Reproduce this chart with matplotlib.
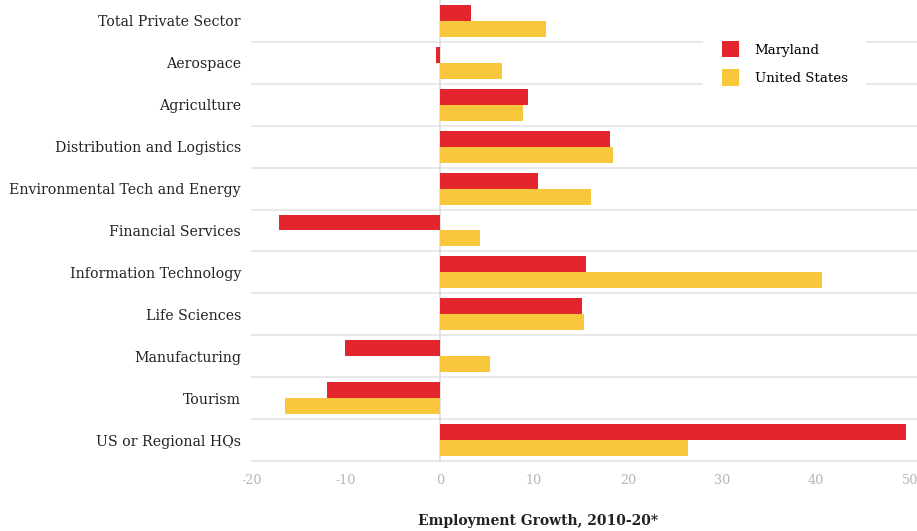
import numpy as np
import matplotlib.pyplot as plt
from matplotlib.patches import Patch

categories = ["Total Private Sector", "Aerospace", "Agriculture",
              "Distribution and Logistics", "Environmental Tech and Energy",
              "Financial Services", "Information Technology", "Life Sciences",
              "Manufacturing", "Tourism", "US or Regional HQs"]
maryland = [3.3, -0.4, 9.4, 18.1, 10.4, -17.1, 15.5, 15.1, -10.1, -12.0, 49.6]
united_states = [11.3, 6.6, 8.8, 18.4, 16.1, 4.3, 40.6, 15.3, 5.3, -16.5, 26.4]
xticks = [-20, -10, 0, 10, 20, 30, 40, 50]

red = "#e3262e"
yellow = "#f8c73c"

plt.rcParams['font.family'] = ['DejaVu Serif']

fig = plt.figure(figsize=(9.17, 5.31), dpi=100)
ax = fig.add_axes([252 / 917, 1 - 461 / 531, (910 - 252) / 917, 461 / 531])

y = np.arange(len(categories))
h = 0.38
ax.barh(y - h / 2, maryland, height=h, color=red, zorder=3)
ax.barh(y + h / 2, united_states, height=h, color=yellow, zorder=3)

ax.set_xlim(-20, 50)
ax.set_ylim(len(categories) - 0.5, -0.5)
ax.set_yticks(y)
ax.set_yticklabels(categories, fontsize=10.2, color="#222222")
ax.set_xticks(xticks)
ax.set_xticklabels([str(t) for t in xticks], fontsize=9.2, color="#b5b5b5")
ax.tick_params(axis="both", length=0)
ax.tick_params(axis="y", pad=8)
ax.tick_params(axis="x", pad=9)

for b in np.arange(0.5, len(categories), 1.0):
    ax.axhline(b, color="#e8e8e8", lw=1.5, zorder=1, xmax=1.02, clip_on=False)
ax.axvline(0, color="#dddddd", lw=1.2, zorder=2)

for s in ax.spines.values():
    s.set_visible(False)

handles = [Patch(facecolor=red, label="Maryland"),
           Patch(facecolor=yellow, label="United States")]
leg = ax.legend(handles=handles, loc="upper left", bbox_to_anchor=(0.686, 0.952),
                frameon=True, facecolor="white", edgecolor="none", framealpha=1,
                fontsize=9.6, handlelength=1.3, handleheight=1.55, handletextpad=1.15,
                labelspacing=0.85, borderpad=1.4, borderaxespad=0, fancybox=False)
leg.set_zorder(5)

fig.text(538 / 917, 1 - 521 / 531, "Employment Growth, 2010-20*", ha="center", va="center",
         fontsize=10, fontweight="bold", color="#222222")

fig.savefig("out.png", dpi=100)
